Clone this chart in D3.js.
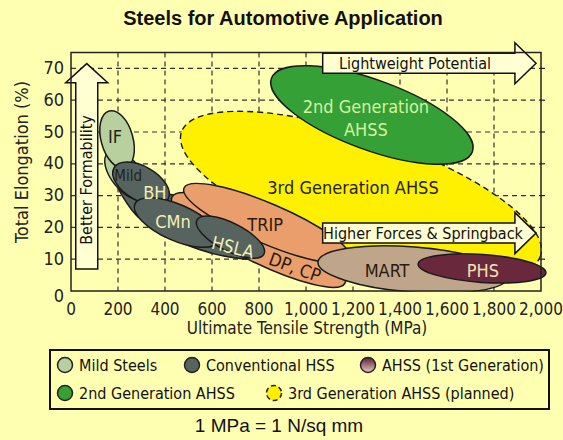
<!DOCTYPE html>
<html>
<head>
<meta charset="utf-8">
<script src="https://cdn.jsdelivr.net/npm/d3@7"></script>
<style>
  body { margin: 0; background: #ffffb2; }
  svg { display: block; }
  .nar { font-family: "Liberation Sans Narrow", "DejaVu Sans Condensed", "Liberation Sans", sans-serif; }
</style>
</head>
<body>
<script>
// axis ticks
var xTicks = [0, 200, 400, 600, 800, 1000, 1200, 1400, 1600, 1800, 2000];
var yTicks = [0, 10, 20, 30, 40, 50, 60, 70];

// steel regions: major axis ends (MPa, %) and half width (%)
var regionNames = ['3rdGen', '2ndGen', 'Envelope', 'Mild', 'IF', 'BH', 'DP', 'TRIP', 'CMn', 'HSLA', 'MART', 'PHS'];
var regionEnds = {
  '3rdGen': [[470, 50.0], [1998, 11.0]],
  '2ndGen': [[853, 66.9], [1708, 43.8]],
  'Mild':   [[157, 43.4], [319, 29.2]],
  'IF':     [[162, 56.6], [230, 38.7]],
  'BH':     [[183, 38.7], [413, 28.9]],
  'DP':     [[430, 29.6], [1166, 2.5]],
  'TRIP':   [[481, 32.4], [1187, 10.1]],
  'CMn':    [[272, 27.4], [626, 15.7]],
  'HSLA':   [[536, 22.3], [821, 11.6]],
  'MART':   [[1051, 9.1], [1860, 4.4]],
  'PHS':    [[1477, 8.5], [2021, 5.7]]
};
var regionHalfWidth = {'3rdGen': 18.2, '2ndGen': 11.0, 'Mild': 4.7, 'IF': 5.0, 'BH': 5.35,
  'DP': 6.9, 'TRIP': 6.3, 'CMn': 5.66, 'HSLA': 4.4, 'MART': 7.1, 'PHS': 4.4};

// outline of conventional HSS band (MPa, %)
var envelopePts = [[166, 41.2], [200, 32.4], [285, 23.3], [443, 16.0], [613, 11.6], [762, 10.1],
  [817, 12.9], [740, 17.3], [570, 24.2], [464, 29.6], [336, 31.8], [243, 38.7]];

// region labels (MPa, %)
var labels = [
  {t: 'IF', x: 187, y: 48.5, c: '#222', s: 18, r: 0},
  {t: 'Mild', x: 243, y: 36.2, c: '#222', s: 15, r: 0},
  {t: 'BH', x: 357, y: 31.1, c: '#f4f0b4', s: 18, r: 0},
  {t: 'CMn', x: 434, y: 21.7, c: '#f4f0b4', s: 18, r: 0},
  {t: 'HSLA', x: 689, y: 13.8, c: '#f4f0b4', s: 18, r: 14},
  {t: 'TRIP', x: 826, y: 20.8, c: '#2a1a10', s: 18, r: 0},
  {t: 'DP, CP', x: 953, y: 7.5, c: '#2a1a10', s: 18, r: 20},
  {t: 'MART', x: 1345, y: 6.6, c: '#2a1a10', s: 18, r: 0},
  {t: 'PHS', x: 1753, y: 6.6, c: '#f4e4b4', s: 18, r: 0},
  {t: '2nd Generation', x: 1255, y: 57.9, c: '#d6f4a0', s: 18, r: 0},
  {t: 'AHSS', x: 1255, y: 50.9, c: '#d6f4a0', s: 18, r: 0},
  {t: '3rd Generation AHSS', x: 1200, y: 32.7, c: '#222', s: 18, r: 0}
];

// arrows: from, to (MPa, %), head base
var arrowNames = ['Better Formability', 'Lightweight Potential', 'Higher Forces & Springback'];
var arrowFrom = [[67, 6.9], [1071, 71.6], [1071, 18.2]];
var arrowTo = [[67, 71.5], [1979, 71.6], [1979, 18.2]];
var arrowBase = [65.5, 1889, 1889];
var arrowText = [[67, 34.9], [1464, 71.6], [1498, 18.2]];

var legendNames = ['Mild Steels', 'Conventional HSS', 'AHSS (1st Generation)', '2nd Generation AHSS', '3rd Generation AHSS (planned)'];

var W = 563, H = 440;
var fills = {'3rdGen': '#fff000', '2ndGen': '#35a035', 'Envelope': '#56635f', 'Mild': '#b7d09d', 'IF': '#b7d09d',
  'BH': '#56635f', 'CMn': '#56635f', 'HSLA': '#56635f', 'DP': '#e99e6c', 'TRIP': '#e99e6c', 'MART': '#bfa68b', 'PHS': '#6a283d'};

var x = d3.scaleLinear().domain([0, 2000]).range([71, 541]);
var y = d3.scaleLinear().domain([0, 75]).range([291, 52.5]);

var svg = d3.select('body').append('svg').attr('width', W).attr('height', H);

var defs = svg.append('defs');
var grad = defs.append('linearGradient').attr('id', 'ahss1').attr('x1', 0).attr('y1', 0).attr('x2', 0).attr('y2', 1);
grad.append('stop').attr('offset', '0%').attr('stop-color', '#5a1c34');
grad.append('stop').attr('offset', '100%').attr('stop-color', '#e8c8c8');
defs.append('clipPath').attr('id', 'plotclip').append('rect')
  .attr('x', 0).attr('y', 0).attr('width', W).attr('height', y(0) + 0.5);

svg.append('text').attr('x', 283).attr('y', 25).attr('text-anchor', 'middle')
  .style('font-family', '"Liberation Sans", Arial, sans-serif').style('font-weight', 'bold').style('font-size', '20px')
  .attr('fill', '#111').text('Steels for Automotive Application');

// grid
var grid = svg.append('g').attr('stroke', '#333').attr('stroke-width', 1.2).attr('stroke-dasharray', '5,4');
grid.selectAll('.gx').data(xTicks.slice(1, -1)).enter().append('line')
  .attr('x1', function(d){ return x(d); }).attr('x2', function(d){ return x(d); })
  .attr('y1', y(75)).attr('y2', y(0));
grid.selectAll('.gy').data(yTicks.slice(1)).enter().append('line')
  .attr('y1', function(d){ return y(d); }).attr('y2', function(d){ return y(d); })
  .attr('x1', x(0)).attr('x2', x(2000));

var plot = svg.append('g').attr('clip-path', 'url(#plotclip)');

var drawEllipse = function(name){
  var e = regionEnds[name];
  var x0 = x(e[0][0]), y0 = y(e[0][1]), x1 = x(e[1][0]), y1 = y(e[1][1]);
  var cx = (x0 + x1) / 2, cy = (y0 + y1) / 2;
  var a = Math.sqrt((x1 - x0) * (x1 - x0) + (y1 - y0) * (y1 - y0)) / 2;
  var b = y(0) - y(regionHalfWidth[name]);
  var ang = Math.atan2(y1 - y0, x1 - x0) * 180 / Math.PI;
  var el = plot.append('ellipse').attr('cx', 0).attr('cy', 0).attr('rx', a).attr('ry', b)
    .attr('transform', 'translate(' + cx + ',' + cy + ') rotate(' + ang + ')')
    .attr('fill', fills[name]).attr('stroke', '#1a1a1a').attr('stroke-width', 1.5);
  if(name == '3rdGen') { el.attr('stroke-dasharray', '6,4').attr('stroke-width', 1.4); }
};

regionNames.forEach(function(n){
  if(n == 'Envelope') {
    plot.append('path')
      .attr('d', d3.line().x(function(d){ return x(d[0]); }).y(function(d){ return y(d[1]); })
        .curve(d3.curveCardinalClosed.tension(0.2))(envelopePts))
      .attr('fill', fills.Envelope).attr('stroke', '#1a1a1a').attr('stroke-width', 1.5);
  } else {
    drawEllipse(n);
  }
});

// arrows
var arrowPath = function(i){
  var f = arrowFrom[i], t = arrowTo[i];
  if(f[0] == t[0]) {
    var cx = x(f[0]), yb = y(f[1]), yt = y(t[1]), yh = y(arrowBase[i]);
    return 'M' + (cx - 11) + ',' + yb + 'L' + (cx - 11) + ',' + yh + 'L' + (cx - 21) + ',' + yh +
      'L' + cx + ',' + yt + 'L' + (cx + 21) + ',' + yh + 'L' + (cx + 11) + ',' + yh + 'L' + (cx + 11) + ',' + yb + 'Z';
  }
  var cy = y(f[1]), xl = x(f[0]), xt = x(t[0]), xh = x(arrowBase[i]);
  return 'M' + xl + ',' + (cy - 10) + 'L' + xh + ',' + (cy - 10) + 'L' + xh + ',' + (cy - 20.5) +
    'L' + xt + ',' + cy + 'L' + xh + ',' + (cy + 20.5) + 'L' + xh + ',' + (cy + 10) + 'L' + xl + ',' + (cy + 10) + 'Z';
};
arrowNames.forEach(function(n, i){
  svg.append('path').attr('d', arrowPath(i)).attr('fill', '#ffffd2').attr('stroke', '#111').attr('stroke-width', 1.5);
  var tx = x(arrowText[i][0]), ty = y(arrowText[i][1]);
  var t = svg.append('text').attr('class', 'nar').attr('x', tx).attr('y', ty)
    .attr('text-anchor', 'middle').attr('dominant-baseline', 'central')
    .style('font-size', '16px').attr('fill', '#111').text(n);
  if(i == 0) { t.attr('transform', 'rotate(-90,' + tx + ',' + ty + ')'); }
});

// labels
svg.selectAll('.lbl').data(labels).enter().append('text').attr('class', 'nar')
  .attr('x', function(d){ return x(d.x); }).attr('y', function(d){ return y(d.y); })
  .attr('text-anchor', 'middle').attr('dominant-baseline', 'central')
  .attr('transform', function(d){ return 'rotate(' + d.r + ',' + x(d.x) + ',' + y(d.y) + ')'; })
  .style('font-size', function(d){ return d.s + 'px'; })
  .attr('fill', function(d){ return d.c; }).text(function(d){ return d.t; });

// frame
svg.append('rect').attr('x', x(0)).attr('y', y(75)).attr('width', x(2000) - x(0)).attr('height', y(0) - y(75))
  .attr('fill', 'none').attr('stroke', '#222').attr('stroke-width', 1.5);
svg.selectAll('.rt').data(yTicks.slice(1)).enter().append('line')
  .attr('x1', x(2000)).attr('x2', x(2000) + 4)
  .attr('y1', function(d){ return y(d); }).attr('y2', function(d){ return y(d); })
  .attr('stroke', '#222').attr('stroke-width', 1.2);

// tick labels
svg.selectAll('.xl').data(xTicks).enter().append('text').attr('class', 'nar')
  .attr('x', function(d){ return x(d); }).attr('y', 309).attr('text-anchor', 'middle')
  .attr('dominant-baseline', 'central').style('font-size', '17px').attr('fill', '#222')
  .text(function(d){ return d3.format(',')(d); });
svg.selectAll('.yl').data(yTicks).enter().append('text').attr('class', 'nar')
  .attr('x', 64).attr('y', function(d){ return y(d) - 1 + (d == 0 ? 5 : 0); }).attr('text-anchor', 'end')
  .attr('dominant-baseline', 'central').style('font-size', '18px').attr('fill', '#222')
  .text(function(d){ return d; });

svg.append('text').attr('class', 'nar').attr('x', 307).attr('y', 328).attr('text-anchor', 'middle')
  .attr('dominant-baseline', 'central').style('font-size', '17px').attr('fill', '#222')
  .text('Ultimate Tensile Strength (MPa)');
svg.append('text').attr('class', 'nar').attr('x', 21).attr('y', 162).attr('text-anchor', 'middle')
  .attr('dominant-baseline', 'central').attr('transform', 'rotate(-90,21,162)')
  .style('font-size', '18px').attr('fill', '#222').text('Total Elongation (%)');

// legend
var lg = svg.append('g');
lg.append('rect').attr('x', 50).attr('y', 350).attr('width', 499).attr('height', 59)
  .attr('fill', 'none').attr('stroke', '#111').attr('stroke-width', 2);
var legPos = [[65, 365], [192, 365], [368, 365], [65, 393], [274, 393]];
var legFill = ['#b7d09d', '#56635f', 'url(#ahss1)', '#35a035', '#fff000'];
legendNames.forEach(function(n, i){
  var c = lg.append('circle').attr('cx', legPos[i][0]).attr('cy', legPos[i][1]).attr('r', 7.5)
    .attr('fill', legFill[i]).attr('stroke', '#222').attr('stroke-width', 1.5);
  if(i == 4) { c.attr('stroke-dasharray', '5,3'); }
  lg.append('text').attr('class', 'nar').attr('x', legPos[i][0] + 14).attr('y', legPos[i][1])
    .attr('dominant-baseline', 'central').style('font-size', '16px').attr('fill', '#111').text(n);
});

svg.append('text').attr('x', 279).attr('y', 425).attr('text-anchor', 'middle').attr('dominant-baseline', 'central')
  .style('font-family', '"Liberation Sans", Arial, sans-serif').style('font-size', '19px').attr('fill', '#111')
  .text('1 MPa = 1 N/sq mm');
</script>
</body>
</html>
